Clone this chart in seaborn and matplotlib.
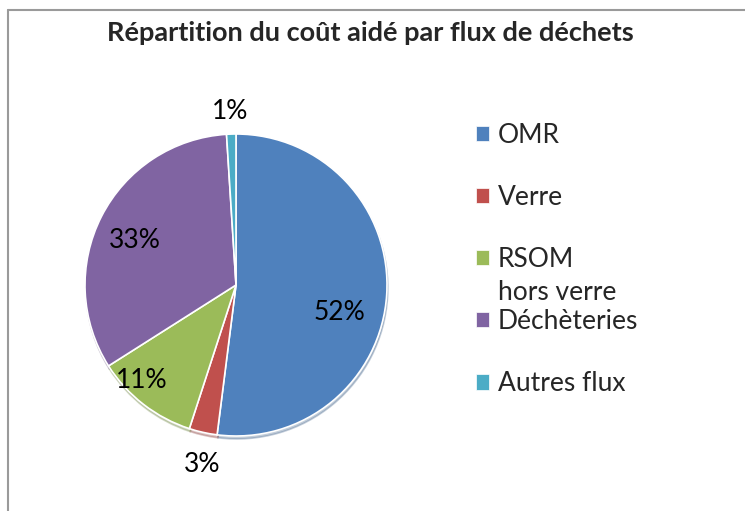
import numpy as np
import matplotlib
matplotlib.use("Agg")
import matplotlib.pyplot as plt
from matplotlib.lines import Line2D
import seaborn as sns

# --- DONNEES ---
flux = ["OMR", "Verre", "RSOM", "Déchèteries", "Autres flux"]
parts = [52, 3, 11, 33, 1]
couleurs = ["#4F81BD", "#C0504D", "#9BBB59", "#8064A2", "#4BACC6"]
# position des étiquettes (distance au centre, décalage angulaire en degrés)
dist_etiquettes = [0.71, 1.21, 0.89, 0.73, 1.15]
decal_etiquettes = [-11, 2, -7, 3, 0]

sns.set_theme(style="white")
plt.rcParams["font.family"] = ["Lato", "DejaVu Sans"]

W, H = 745, 511
fig = plt.figure(figsize=(W / 100, H / 100), dpi=100)

# cadre du graphique (coupé à droite et en bas)
fig.add_artist(Line2D([8 / W, 1], [1 - 10 / H, 1 - 10 / H], color="#9a9a9a", lw=1.5))
fig.add_artist(Line2D([8 / W, 8 / W], [0, 1 - 10 / H], color="#9a9a9a", lw=1.5))

cx, cy, r = 236, 285, 151
ax = fig.add_axes([(cx - r) / W, (H - cy - r) / H, 2 * r / W, 2 * r / H])

wedges, _ = ax.pie(
    parts,
    colors=couleurs,
    startangle=90,
    counterclock=False,
    radius=1,
    wedgeprops=dict(edgecolor="white", linewidth=1.2),
    shadow={"ox": 0.004, "oy": -0.014, "shade": 0.3, "alpha": 0.3},
)
ax.set_xlim(-1, 1)
ax.set_ylim(-1, 1)
ax.set_aspect("equal")
ax.axis("off")

for w, p, d, da in zip(wedges, parts, dist_etiquettes, decal_etiquettes):
    ang = np.deg2rad((w.theta1 + w.theta2) / 2 + da)
    ax.text(d * np.cos(ang), d * np.sin(ang), f"{p}%", ha="center", va="center",
            fontsize=19, color="black", clip_on=False)

fig.text(370 / W, 1 - 33 / H, "Répartition du coût aidé par flux de déchets",
         ha="center", va="center", fontsize=19.5, fontweight="bold")

leg = ax.legend(wedges, flux, loc="upper left", bbox_to_anchor=(465 / W, 1 - 112 / H),
                bbox_transform=fig.transFigure, frameon=False, fontsize=19,
                handlelength=0.5, handleheight=0.5, handletextpad=0.35,
                labelspacing=1.41, borderaxespad=0)
for h in leg.legend_handles:
    h.set_edgecolor("white")
    h.set_linewidth(0.5)

# seconde ligne de "RSOM hors verre", qui déborde sur l'entrée suivante
fig.canvas.draw()
bb = leg.get_texts()[2].get_window_extent()
fig.text(bb.x0 / W, (bb.y0 - 33) / H, "hors verre", ha="left", va="bottom", fontsize=19)

fig.savefig("out.png", dpi=100)
